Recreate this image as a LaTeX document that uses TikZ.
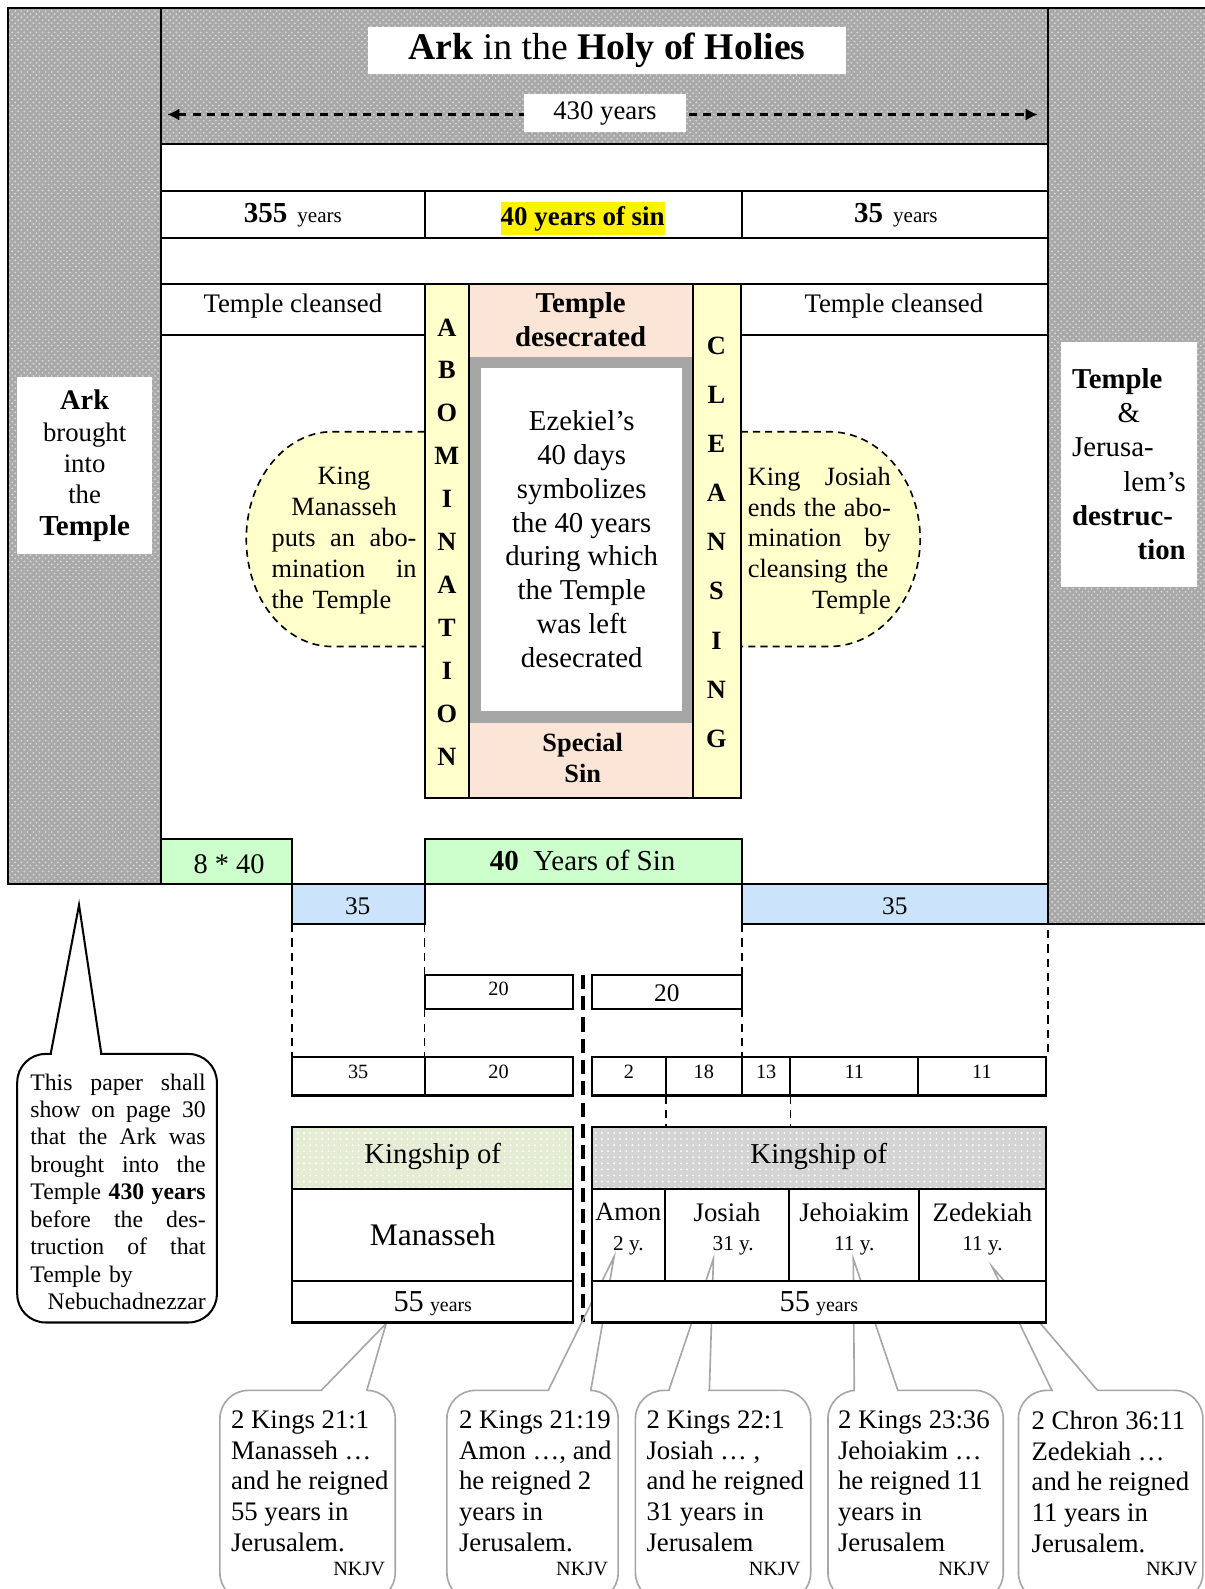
\documentclass[tikz,border=0pt]{standalone}
\usepackage{fontspec}
\setmainfont{Liberation Serif}
\usetikzlibrary{arrows.meta,patterns,positioning}

\definecolor{hatchgray}{HTML}{A9A9A9}
\definecolor{paleyellow}{HTML}{FFFFCC}
\definecolor{peach}{HTML}{FBE5D6}
\definecolor{palegreen}{HTML}{CCFFCC}
\definecolor{paleblue}{HTML}{CCE4FB}
\definecolor{framegray}{HTML}{A6A6A6}
\definecolor{callgray}{HTML}{A6A6A6}
\definecolor{kinggreen}{HTML}{E4ECD4}
\definecolor{kinggray}{HTML}{D4D4D4}

\newcommand{\fsz}[2]{\fontsize{#1}{#2}\selectfont}
\newcommand{\spreadln}[1]{\makebox[\linewidth][s]{\spaceskip=0pt\xspaceskip=0pt #1}}
\newcommand{\flushl}[1]{\makebox[\linewidth][l]{#1}}
\newcommand{\flushr}[1]{\makebox[\linewidth][r]{#1}}

\begin{document}
\begin{tikzpicture}[
    x=0.5pt, y=-0.5pt,
    line width=1pt,
    hatch/.style={draw,preaction={fill=hatchgray},
                  preaction={pattern=crosshatch dots,pattern color=white!55!hatchgray}},
    speckle/.style={draw,preaction={fill=#1},preaction={pattern=dots,pattern color=white}},
    txt/.style={inner sep=0pt,font=\fsz{13.2}{15.2}},
    num/.style={inner sep=0pt,font=\fsz{10}{12}},
    bignum/.style={inner sep=0pt,font=\fsz{12.5}{14}},
    letters/.style={inner sep=0pt,align=center,font=\fsz{13}{21.2}\bfseries},
    guide/.style={line width=0.8pt,dash pattern=on 4pt off 3pt},
    kingsep/.style={line width=2pt,dash pattern=on 7pt off 3.5pt},
    bubble/.style={fill=paleyellow,line width=0.8pt,dash pattern=on 3.5pt off 2.5pt},
    call/.style={draw=callgray,fill=white,line width=0.8pt,rounded corners=14pt},
    ptr/.style={draw=callgray,line width=0.8pt},
    ref/.style={inner sep=0pt,align=left,anchor=north west,font=\fsz{13.2}{15.2}},
    nkjv/.style={inner sep=0pt,anchor=base east,font=\fsz{10}{12}},
  ]
  \useasboundingbox (0,0) rectangle (1189,1568);
  \clip (0,0) rectangle (1189,1568);

  % -- hatched frame --------------------------------------------------
  \draw[hatch] (8,8) rectangle (159,872);
  \draw[hatch] (159,8) rectangle (1034,142);
  \draw[hatch] (1034,8) rectangle (1200,912);
  \draw[fill=white] (159,142) rectangle (1034,872);

  % -- title and 430 years span ---------------------------------------
  \coordinate (spanL) at (165,113);
  \coordinate (spanR) at (1024,113);
  \draw[line width=1pt,dash pattern=on 4pt off 3pt,
        {Latex[length=6pt,width=6pt]}-{Latex[length=6pt,width=6pt]}] (spanL) -- (spanR);
  \node[fill=white,inner sep=0pt,minimum width=236pt,minimum height=23pt,
        font=\fsz{18.6}{22}] (title) at (599,50) {\textbf{Ark} in the \textbf{Holy of Holies}};
  \node[fill=white,inner sep=0pt,minimum width=80pt,minimum height=18.5pt,
        font=\fsz{13.2}{15}] (span) at (597,111.5) {430 years};

  % -- year rows ------------------------------------------------------
  \draw (159,188) -- (1034,188);
  \draw (159,235) -- (1034,235);
  \draw (159,280) -- (1034,280);
  \draw (419,188) -- (419,235);
  \draw (732,188) -- (732,235);
  \node[txt] (y355) at (289,212) {{\fsz{14.3}{16}\bfseries 355}\hspace{5pt}{\fsz{10.4}{12}years}};
  \node[fill=yellow,inner sep=0pt,text height=12pt,text depth=4.5pt,
        font=\fsz{13.3}{15}\bfseries] (sinyears) at (575,215.5) {40 years of sin};
  \node[txt] (y35) at (884,212) {{\fsz{14.3}{16}\bfseries 35}\hspace{5pt}{\fsz{10.4}{12}years}};

  % -- cleansed cells -------------------------------------------------
  \draw (159,331) -- (419,331);
  \draw (732,331) -- (1034,331);
  \node[txt] (cleanL) at (289,302) {Temple cleansed};
  \node[txt] (cleanR) at (882,302) {Temple cleansed};

  % -- bubbles --------------------------------------------------------
  \draw[bubble] (419,426) -- (328,426)
        arc[start angle=270,end angle=90,x radius=85,y radius=106] -- (419,638);
  \draw[bubble] (731,426) -- (818,426)
        arc[start angle=-90,end angle=90,x radius=90,y radius=106] -- (731,638);
  \node[inner sep=0pt,text width=71.5pt,align=center,font=\fsz{13}{15.2}] (manbub) at (339.5,533.5)
       {King\\Manasseh\\\spreadln{puts an abo-}\\\spreadln{mination in}\\\flushl{the Temple}};
  \node[inner sep=0pt,text width=70.5pt,align=center,font=\fsz{13}{15.2}] (josbub) at (808.5,533.5)
       {\spreadln{King Josiah}\\\spreadln{ends the abo-}\\\spreadln{mination by}\\\flushl{cleansing the}\\\flushr{Temple}};

  % -- abomination / holy place / cleansing ---------------------------
  \fill[paleyellow] (419,280) rectangle (463,787);
  \fill[paleyellow] (684,280) rectangle (731,787);
  \fill[peach] (463,280) rectangle (684,352);
  \fill[peach] (463,713) rectangle (684,787);
  \fill[framegray] (463,352) rectangle (684,713);
  \fill[white] (475,363) rectangle (673,702);
  \draw (419,280) rectangle (731,787);
  \draw (463,280) -- (463,787);
  \draw (684,280) -- (684,787);
  \node[inner sep=0pt,align=center,font=\fsz{14.2}{16.5}\bfseries] (desec) at (573,315.5) {Temple\\desecrated};
  \node[inner sep=0pt,align=center,font=\fsz{14.2}{16.7}] (ezek) at (574,532)
       {Ezekiel’s\\40 days\\symbolizes\\the 40 years\\during which\\the Temple\\was left\\desecrated};
  \node[inner sep=0pt,align=center,font=\fsz{13}{15.5}\bfseries] (special) at (575,748) {Special\\Sin};
  \node[letters] (abom) at (441,535) {A\\B\\O\\M\\I\\N\\A\\T\\I\\O\\N};
  \node[letters,font=\fsz{13}{24.25}\bfseries] (clean) at (707,535) {C\\L\\E\\A\\N\\S\\I\\N\\G};

  % -- side labels ----------------------------------------------------
  \node[fill=white,inner sep=0pt,minimum width=66.5pt,minimum height=87.5pt,align=center,
        font=\fsz{13.2}{15.5}] (arklbl) at (83.5,459.5)
       {{\fsz{14}{15.5}\bfseries Ark}\\brought\\into\\the\\{\fsz{14.3}{15.5}\bfseries Temple}};
  \node[fill=white,inner sep=0pt,minimum width=67pt,minimum height=121pt,text width=56pt,
        align=left,font=\fsz{14.2}{16.8}] (destlbl) at (1114,458)
       {\textbf{Temple}\\\makebox[\linewidth][c]{\&}\\Jerusa-\\\flushr{lem’s}\\\textbf{destruc-}\\\flushr{\textbf{tion}}};

  % -- sin periods ----------------------------------------------------
  \draw[fill=palegreen] (159,828) rectangle (288,872);
  \draw[fill=palegreen] (419,828) rectangle (732,872);
  \draw[fill=paleblue] (288,872) rectangle (419,912);
  \draw[fill=paleblue] (732,872) rectangle (1034,912);
  \node[inner sep=0pt,font=\fsz{14}{16}] (g840) at (226,853) {8 * 40};
  \node[inner sep=0pt,font=\fsz{14.3}{16}] (g40) at (575,849) {\textbf{40}\ \ Years of Sin};
  \node[bignum] (b35a) at (353,894) {35};
  \node[bignum] (b35b) at (883,894) {35};

  % -- guides and reign counts ----------------------------------------
  \draw[guide] (288,912) -- (288,1043);
  \draw[guide] (419,912) -- (419,1043);
  \draw[guide] (732,912) -- (732,1043);
  \draw[guide] (1034,918) -- (1034,1043);
  \draw[kingsep] (575,962) -- (575,1305);
  \draw[fill=white] (419,962) rectangle (565,996);
  \draw[fill=white] (584,962) rectangle (732,996);
  \node[num] (t20a) at (492,976) {20};
  \node[bignum] (t20b) at (658,980) {20};

  \draw[fill=white] (288,1043) rectangle (565,1081);
  \draw (419,1043) -- (419,1081);
  \draw[fill=white] (584,1043) rectangle (1032,1081);
  \draw (657,1043) -- (657,1081);
  \draw (732,1043) -- (732,1081);
  \draw (780,1043) -- (780,1081);
  \draw (906,1043) -- (906,1081);
  \node[num] (n35) at (353.5,1058) {35};
  \node[num] (n20) at (492,1058) {20};
  \node[num] (n2) at (620.5,1058) {2};
  \node[num] (n18) at (694.5,1058) {18};
  \node[num] (n13) at (756,1058) {13};
  \node[num] (n11a) at (843,1058) {11};
  \node[num] (n11b) at (969,1058) {11};
  \draw[guide] (657,1081) -- (657,1112);
  \draw[guide] (780,1081) -- (780,1112);

  % -- kingships ------------------------------------------------------
  \draw[speckle=kinggreen] (288,1112) rectangle (565,1173);
  \draw[fill=white] (288,1173) rectangle (565,1264);
  \draw[speckle=kinggray] (584,1112) rectangle (1032,1173);
  \draw[fill=white] (584,1173) rectangle (1032,1264);
  \draw (656,1173) -- (656,1264);
  \draw (779,1173) -- (779,1264);
  \draw (907,1173) -- (907,1264);
  \node[inner sep=0pt,font=\fsz{14.2}{16}] (kshipL) at (427,1141) {Kingship of};
  \node[inner sep=0pt,font=\fsz{14.2}{16}] (kshipR) at (808,1141) {Kingship of};
  \node[inner sep=0pt,font=\fsz{15.5}{17}] (manasseh) at (427,1218) {Manasseh};
  \node[inner sep=0pt,align=center,font=\fsz{13}{14.5}] (amon) at (620,1213) {Amon\\{\fsz{10.5}{12}2 y.}};
  \node[inner sep=0pt,align=center,font=\fsz{13.2}{14.5}] (josiah) at (717.5,1213) {Josiah\\{\fsz{10.5}{12}\hspace{6pt}31 y.}};
  \node[inner sep=0pt,align=center,font=\fsz{13.2}{14.5}] (jehoiakim) at (843,1213) {Jehoiakim\\{\fsz{10.5}{12}11 y.}};
  \node[inner sep=0pt,align=center,font=\fsz{13.2}{14.5}] (zedekiah) at (969.5,1213) {Zedekiah\\{\fsz{10.5}{12}11 y.}};

  % -- note on the left -----------------------------------------------
  \coordinate (notetip) at (78,893);
  \draw[fill=white,rounded corners=14pt] (17,1040) rectangle (214,1305);
  \draw[white,line width=1.5pt] (51,1040) -- (99,1040);
  \draw (50,1040) -- (notetip) -- (100,1040);
  \node[inner sep=0pt,text width=86.5pt,align=left,font=\fsz{11.7}{13.55}] (note) at (116.5,1176)
       {\spreadln{This paper shall}\\\spreadln{show on page 30}\\\spreadln{that the Ark was}\\
        \spreadln{brought into the}\\\spreadln{Temple \textbf{430 years}}\\\spreadln{before the des-}\\
        \spreadln{truction of that}\\Temple by\\\flushr{Nebuchadnezzar}};

  % -- scripture callouts ---------------------------------------------
  \coordinate (tipM) at (381,1306);
  \coordinate (tipA) at (606,1240);
  \coordinate (tipJo) at (704,1242);
  \coordinate (tipJe) at (842,1242);
  \coordinate (tipZ) at (979,1250);

  \draw[call] (217,1372) rectangle (390,1580);
  \draw[white,line width=1.5pt] (318,1372) -- (361,1372);
  \draw[ptr] (317,1372) -- (tipM) -- (362,1372);
  \draw[call] (441,1372) rectangle (610,1580);
  \draw[white,line width=1.5pt] (542,1372) -- (582,1372);
  \draw[ptr] (541,1372) -- (tipA) -- (583,1372);
  \draw[call] (627,1372) rectangle (800,1580);
  \draw[white,line width=1.5pt] (661,1372) -- (699,1372);
  \draw[ptr] (660,1372) -- (tipJo) -- (700,1372);
  \draw[call] (817,1372) rectangle (990,1580);
  \draw[white,line width=1.5pt] (844,1372) -- (885,1372);
  \draw[ptr] (843,1372) -- (tipJe) -- (886,1372);
  \draw[call] (1005,1372) rectangle (1187,1580);
  \draw[white,line width=1.5pt] (1039,1372) -- (1082,1372);
  \draw[ptr] (1038,1372) -- (tipZ) -- (1083,1372);

  % -- 55 years -------------------------------------------------------
  \draw[fill=white] (288,1264) rectangle (565,1305);
  \draw[fill=white] (584,1264) rectangle (1032,1305);
  \node[inner sep=0pt] (y55L) at (427,1286) {{\fsz{15}{17}55}\hspace{3pt}{\fsz{9.8}{12}years}};
  \node[inner sep=0pt] (y55R) at (808,1286) {{\fsz{15}{17}55}\hspace{3pt}{\fsz{9.8}{12}years}};

  \node[ref] (kings1) at (227,1391) {2 Kings 21:1\\Manasseh …\\and he reigned\\55 years in\\Jerusalem.};
  \node[nkjv] (nk1) at (381,1555) {NKJV};
  \node[ref] (kings2) at (452,1391) {2 Kings 21:19\\Amon …, and\\he reigned 2\\years in\\Jerusalem.};
  \node[nkjv] (nk2) at (601,1555) {NKJV};
  \node[ref] (kings3) at (637,1391) {2 Kings 22:1\\Josiah … ,\\and he reigned\\31 years in\\Jerusalem};
  \node[nkjv] (nk3) at (791,1555) {NKJV};
  \node[ref] (kings4) at (826,1391) {2 Kings 23:36\\Jehoiakim …\\he reigned 11\\years in\\Jerusalem};
  \node[nkjv] (nk4) at (978,1555) {NKJV};
  \node[ref] (chron5) at (1017,1391) {2 Chron 36:11\\Zedekiah …\\and he reigned\\11 years in\\Jerusalem.};
  \node[nkjv] (nk5) at (1183,1555) {NKJV};

\end{tikzpicture}
\end{document}
